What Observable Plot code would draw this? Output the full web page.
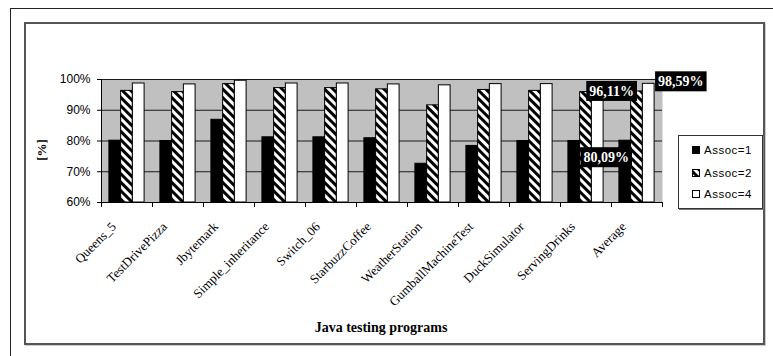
<!DOCTYPE html>
<html>
<head>
<meta charset="utf-8">
<script src="https://cdn.jsdelivr.net/npm/d3@7"></script>
<script src="https://cdn.jsdelivr.net/npm/@observablehq/plot@0.6"></script>
<style>
  body { margin: 0; background: #fff; }
  #page { position: relative; width: 773px; height: 356px; overflow: hidden; background: #fff; }
  #outer { position: absolute; left: 10px; top: 8px; width: 790px; height: 380px; border: 1px solid #222; }
  #inner { position: absolute; left: 24px; top: 22px; width: 737px; height: 319px; border: 2px solid #555; box-shadow: 1px 1px 0 #ccc; }
  #chart { position: absolute; left: 0; top: 0; }
  #ytitle { position: absolute; left: 42px; top: 150px; transform: translate(-50%, -50%) rotate(-90deg);
            font: bold 13px "Liberation Serif"; white-space: nowrap; }
  #xtitle { position: absolute; left: 381px; top: 328px; transform: translate(-50%, -50%);
            font: bold 14px "Liberation Serif"; white-space: nowrap; }
  #legend { position: absolute; left: 678px; top: 135px; width: 83px; height: 72px; border: 1px solid #333;
            box-shadow: 1px 1px 0 #777; background: #fff; font: 11.5px "Liberation Sans"; letter-spacing: 0.5px; }
  .item { position: absolute; left: 13px; height: 12px; display: flex; align-items: center; }
  .item svg { margin-right: 4px; }
</style>
</head>
<body>
<div id="page">
  <div id="outer"></div>
  <div id="inner"></div>
  <div id="chart"></div>
  <div id="ytitle">[%]</div>
  <div id="xtitle">Java testing programs</div>
  <div id="legend"></div>
</div>
<script>
// Cache hit rate per test program for three associativity settings
const programs = ["Queens_5", "TestDrivePizza", "Jbytemark", "Simple_inheritance", "Switch_06",
  "StarbuzzCoffee", "WeatherStation", "GumballMachineTest", "DuckSimulator", "ServingDrinks", "Average"];
const series = ["Assoc=1", "Assoc=2", "Assoc=4"];
const assoc1 = [80.1, 80.0, 86.9, 81.2, 81.2, 80.9, 72.6, 78.4, 80.0, 80.0, 80.09];
const assoc2 = [96.3, 95.9, 98.5, 97.2, 97.2, 96.8, 91.6, 96.6, 96.3, 95.9, 96.11];
const assoc4 = [98.7, 98.4, 99.6, 98.7, 98.7, 98.4, 98.1, 98.5, 98.5, 98.3, 98.59];
const yTicks = [60, 70, 80, 90, 100];

// Value labels shown on the "Average" group
const labelSeries = ["Assoc=4", "Assoc=2", "Assoc=1"];

const seriesValues = [assoc1, assoc2, assoc4];
const rows = series.map((s, k) => programs.map((p, i) => ({program: p, series: s, value: seriesValues[k][i]})));
const fills = ["#000", "url(#hatch)", "#fff"];

const W = 773, H = 356;
const mL = 101, mR = 111, mT = 79, mB = 154;
const step = (W - mL - mR) / programs.length;
const barW = step * 0.23;
const inset = (step - barW) / 2;
const tickLen = 1.6;

const fmt = v => v.toFixed(2).replace(".", ",") + "%";
const avg = programs.length - 1;
const labelRows = labelSeries.map(s => rows[series.indexOf(s)][avg]);

const chart = Plot.plot({
  width: W, height: H,
  marginLeft: mL, marginRight: mR, marginTop: mT, marginBottom: mB,
  style: {background: "transparent", color: "#000", overflow: "visible"},
  x: {domain: programs, padding: 0},
  y: {domain: [60, 100]},
  marks: [
    Plot.frame({fill: "#c0c0c0", stroke: "none"}),
    Plot.ruleY(yTicks.slice(1), {stroke: "#1a1a1a", strokeWidth: 1}),
    ...rows.map((data, k) => Plot.barY(data, {
      x: "program", y1: 60, y2: "value",
      fill: fills[k], stroke: "#000", strokeWidth: 1,
      insetLeft: inset, insetRight: inset, dx: (k - 1) * barW
    })),
    Plot.ruleY([60], {stroke: "#000"}),
    Plot.ruleX([programs[0]], {x: d => d, y1: 60, y2: 100, dx: -step / 2, stroke: "#000"}),
    Plot.ruleX(programs, {x: d => d, y1: 60, y2: 60 - tickLen, dx: -step / 2, stroke: "#000"}),
    Plot.ruleX([programs[avg]], {x: d => d, y1: 60, y2: 60 - tickLen, dx: step / 2, stroke: "#000"}),
    Plot.axisY({ticks: yTicks, tickFormat: d => d + "%", tickSize: 4, tickPadding: 7,
      fontSize: 12, fontFamily: "Liberation Sans", label: null}),
    Plot.axisX({tickRotate: -45, tickSize: 0, tickPadding: 22, dx: -13,
      fontSize: 13, fontFamily: "Liberation Serif", label: null}),
    // value labels on the Average bars
    Plot.text([labelRows[0]], {x: "program", y: "value", text: d => fmt(d.value), textAnchor: "start",
      dx: barW * 1.5 + 3.5, dy: -2, fill: "#fff", fontWeight: "bold", fontSize: 14, fontFamily: "Liberation Serif"}),
    Plot.text([labelRows[1]], {x: "program", y: "value", text: d => fmt(d.value), textAnchor: "end",
      dx: -3, dy: 0, fill: "#fff", fontWeight: "bold", fontSize: 14, fontFamily: "Liberation Serif"}),
    Plot.text([labelRows[2]], {x: "program", y: "value", text: d => fmt(d.value), textAnchor: "end",
      dx: -8, dy: 17, fill: "#fff", fontWeight: "bold", fontSize: 14, fontFamily: "Liberation Serif"})
  ]
});

// diagonal hatch used for the Assoc=2 bars
const ns = "http://www.w3.org/2000/svg";
function hatchDefs(svg, id) {
  const defs = document.createElementNS(ns, "defs");
  const pat = document.createElementNS(ns, "pattern");
  pat.setAttribute("id", id);
  pat.setAttribute("patternUnits", "userSpaceOnUse");
  pat.setAttribute("width", 6);
  pat.setAttribute("height", 6);
  pat.setAttribute("patternTransform", "rotate(45)");
  const bg = document.createElementNS(ns, "rect");
  bg.setAttribute("width", 6); bg.setAttribute("height", 6); bg.setAttribute("fill", "#fff");
  const st = document.createElementNS(ns, "rect");
  st.setAttribute("width", 6); st.setAttribute("height", 3); st.setAttribute("fill", "#000");
  pat.append(bg, st);
  defs.append(pat);
  svg.insertBefore(defs, svg.firstChild);
}
hatchDefs(chart, "hatch");
document.getElementById("chart").append(chart);

// black boxes behind the value labels
chart.querySelectorAll('g[aria-label="text"] text').forEach(t => {
  const b = t.getBBox();
  const r = document.createElementNS(ns, "rect");
  r.setAttribute("x", b.x - 3);
  r.setAttribute("y", b.y - 3);
  r.setAttribute("width", b.width + 6);
  r.setAttribute("height", b.height + 5);
  r.setAttribute("fill", "#000");
  const tr = t.getAttribute("transform");
  if (tr) r.setAttribute("transform", tr);
  t.parentNode.insertBefore(r, t);
});

// legend
const legend = document.getElementById("legend");
const tops = [8, 31, 52];
series.forEach((s, k) => {
  const item = document.createElement("div");
  item.className = "item";
  item.style.top = tops[k] + "px";
  const sw = document.createElementNS(ns, "svg");
  sw.setAttribute("width", 8); sw.setAttribute("height", 8);
  if (k === 1) hatchDefs(sw, "hatch-legend");
  const r = document.createElementNS(ns, "rect");
  r.setAttribute("x", 0.5); r.setAttribute("y", 0.5); r.setAttribute("width", 7); r.setAttribute("height", 7);
  r.setAttribute("fill", k === 1 ? "url(#hatch-legend)" : fills[k]);
  r.setAttribute("stroke", "#000");
  sw.append(r);
  const label = document.createElement("span");
  label.textContent = s;
  item.append(sw, label);
  legend.append(item);
});
</script>
</body>
</html>
